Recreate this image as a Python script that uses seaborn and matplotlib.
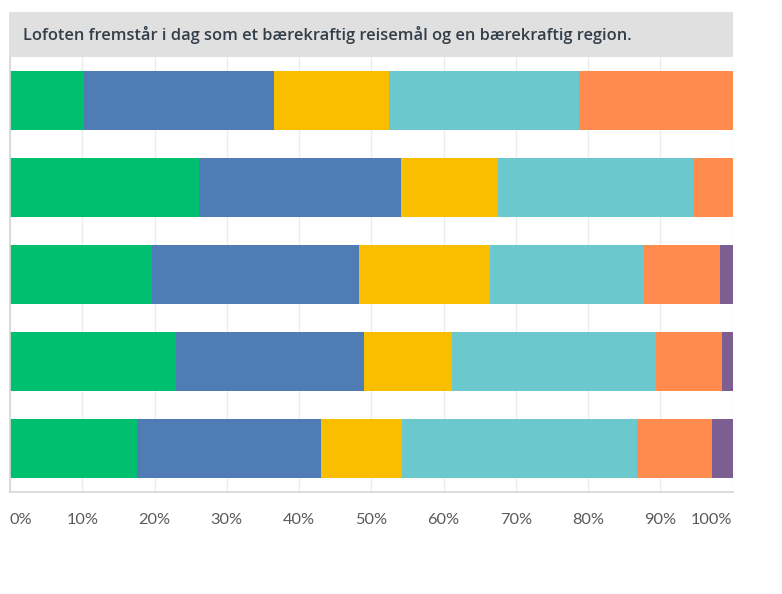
import numpy as np
import pandas as pd
import matplotlib
matplotlib.use("Agg")
import matplotlib.pyplot as plt
import seaborn as sns
from matplotlib.patches import Rectangle

# ---- data (percent per answer option, rows top to bottom) ----
rows = ["Rad 1", "Rad 2", "Rad 3", "Rad 4", "Rad 5"]
series_names = ["S1", "S2", "S3", "S4", "S5", "S6"]
s1 = [10.2, 26.1, 19.6, 23.0, 17.6]
s2 = [26.3, 28.0, 28.7, 26.0, 25.5]
s3 = [16.0, 13.4, 18.1, 12.1, 11.1]
s4 = [26.2, 27.1, 21.3, 28.3, 32.6]
s5 = [21.3, 5.4, 10.5, 9.1, 10.3]
s6 = [0.0, 0.0, 1.8, 1.5, 2.9]
tick_values = [0, 10, 20, 30, 40, 50, 60, 70, 80, 90, 100]
tick_labels = ["0%", "10%", "20%", "30%", "40%", "50%", "60%", "70%", "80%", "90%", "100%"]
title = "Lofoten fremstår i dag som et bærekraftig reisemål og en bærekraftig region."

colors = ["#00bf6f", "#507cb6", "#f9be00", "#6bc8cd", "#ff8b4f", "#7d5e90"]

sns.set_theme(style="white")
plt.rcParams["font.family"] = ["Lato", "DejaVu Sans"]

W, H = 782, 594
fig = plt.figure(figsize=(W / 100, H / 100), dpi=100)
ax_left, ax_right = 10 / W, 732.7 / W
ax_bottom, ax_top = 1 - 492 / H, 1 - 57 / H
ax = fig.add_axes([ax_left, ax_bottom, ax_right - ax_left, ax_top - ax_bottom])

vals = np.array([s1, s2, s3, s4, s5, s6])
cum = np.cumsum(vals, axis=0)
df = pd.DataFrame({"row": rows})
for i in range(len(series_names)):
    df[series_names[i]] = cum[i]

# draw cumulative ends from longest to shortest so each covers the next
for i in reversed(range(len(series_names))):
    sns.barplot(data=df, x=series_names[i], y="row", order=rows, orient="h",
                color=colors[i], saturation=1, width=0.667, linewidth=0,
                ax=ax, zorder=2)

ax.set_xlim(0, 100)
ax.set_ylim(4.5, -0.5)
ax.set_xlabel("")
ax.set_ylabel("")
ax.set_yticks([])
ax.set_xticks(tick_values)
ax.set_xticklabels(tick_labels)
ax.tick_params(axis="x", length=0, pad=15, labelsize=11.8, labelcolor="#5a5a5a")
labels = ax.get_xticklabels()
for lbl in labels:
    lbl.set_fontweight("normal")
labels[0].set_horizontalalignment("left")
labels[-1].set_horizontalalignment("right")

ax.xaxis.grid(True, color="#ececec", linewidth=1, zorder=0)
ax.set_axisbelow(True)
for side in ["top", "right"]:
    ax.spines[side].set_visible(False)
for side in ["left", "bottom"]:
    ax.spines[side].set_color("#d6d6d6")
    ax.spines[side].set_linewidth(1.2)

# title box
fig.patches.append(Rectangle((9 / W, 1 - 57.3 / H), (733 - 9) / W, (57.3 - 12.3) / H,
                             transform=fig.transFigure, facecolor="#e0e0e0",
                             edgecolor="none", zorder=0))
t = fig.text(23 / W, 1 - 35.5 / H, title, fontsize=11, fontweight="semibold",
             family=["Open Sans", "DejaVu Sans"],
             color="#333e48", ha="left", va="center")
# fit title width to the reference box text length (~608 px)
fig.canvas.draw()
wpx = t.get_window_extent().width
t.set_fontsize(11 * 608 / wpx)

fig.savefig("out.png", dpi=100, facecolor="white")
